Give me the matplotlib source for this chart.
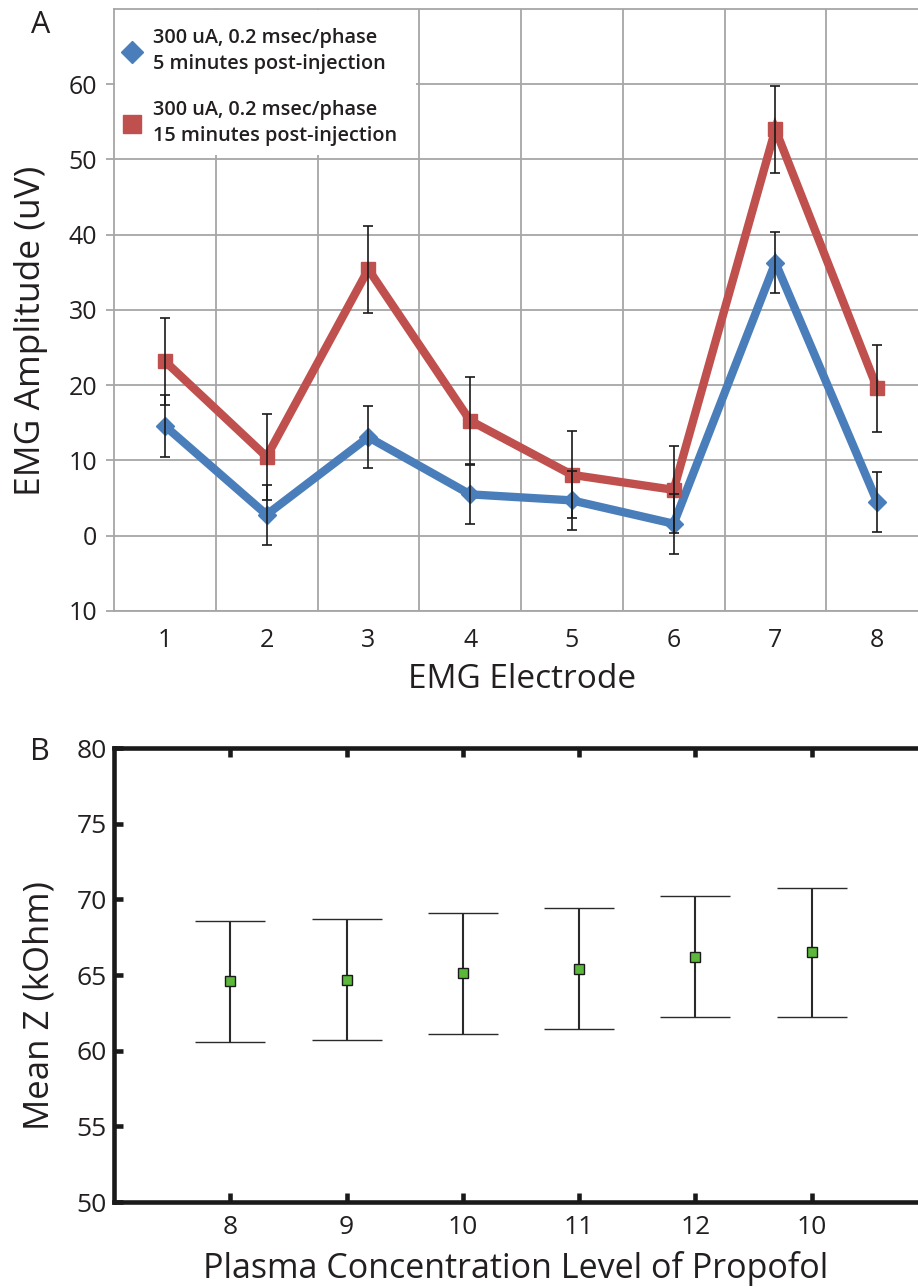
import matplotlib
matplotlib.use("Agg")
import matplotlib.pyplot as plt
from matplotlib.lines import Line2D
from matplotlib.patches import Rectangle

plt.rcParams['font.family'] = ['Open Sans', 'DejaVu Sans']
TXT = '#231f20'

# --- panel A data: EMG amplitude per electrode ---
electrodes = [1, 2, 3, 4, 5, 6, 7, 8]
amp_5min = [14.6, 2.8, 13.1, 5.5, 4.7, 1.6, 36.3, 4.5]
err_5min = [4.1, 4.0, 4.1, 3.9, 3.9, 4.0, 4.1, 4.0]
amp_15min = [23.2, 10.5, 35.4, 15.3, 8.1, 6.1, 54.0, 19.6]
err_15min = [5.8, 5.7, 5.8, 5.8, 5.8, 5.8, 5.8, 5.8]
label_5min = '300 uA, 0.2 msec/phase\n5 minutes post-injection'
label_15min = '300 uA, 0.2 msec/phase\n15 minutes post-injection'
a_yticks = [-10, 0, 10, 20, 30, 40, 50, 60]
a_yticklabels = ['10', '0', '10', '20', '30', '40', '50', '60']

# --- panel B data: mean impedance vs propofol level ---
b_pos = [1, 2, 3, 4, 5, 6]
b_levels = ['8', '9', '10', '11', '12', '10']
mean_z = [64.6, 64.7, 65.1, 65.4, 66.2, 66.5]
err_z = [4.0, 4.0, 4.0, 4.0, 4.0, 4.27]

W, H = 918, 1287
fig = plt.figure(figsize=(W / 100, H / 100), dpi=100)

def box(l, t, r, b):
    return [l / W, 1 - b / H, (r - l) / W, (b - t) / H]

# ---------------- panel A ----------------
ax = fig.add_axes(box(114, 9, 928, 611))
blue, red = '#4a7ebb', '#c0504d'
ax.plot(electrodes, amp_5min, color=blue, lw=6, marker='D', ms=9,
        mfc=blue, mec=blue, zorder=3, solid_joinstyle='miter')
ax.plot(electrodes, amp_15min, color=red, lw=6, marker='s', ms=10,
        mfc=red, mec=red, zorder=3, solid_joinstyle='miter')
ax.errorbar(electrodes, amp_5min, yerr=err_5min, fmt='none', ecolor='#1a1a1a',
            elinewidth=1.2, capsize=3.5, capthick=1.2, zorder=4)
ax.errorbar(electrodes, amp_15min, yerr=err_15min, fmt='none', ecolor='#1a1a1a',
            elinewidth=1.2, capsize=3.5, capthick=1.2, zorder=4)

ax.set_xlim(0.5, 8.5)
ax.set_ylim(-10, 70)
ax.set_yticks(a_yticks, labels=a_yticklabels)
ax.set_xticks(electrodes)
ax.set_xticks([x + 0.5 for x in electrodes[:-1]], minor=True)
ax.grid(True, axis='y', which='major', color='#a6a6a6', lw=1.3)
ax.grid(True, axis='x', which='minor', color='#a6a6a6', lw=1.3)
ax.set_axisbelow(True)
for s in ax.spines.values():
    s.set_color('#a6a6a6')
    s.set_linewidth(1.3)
ax.tick_params(axis='y', length=6, width=1.3, color='#a6a6a6', labelsize=18,
               labelcolor=TXT, pad=6)
ax.tick_params(axis='x', which='both', length=0, labelsize=18, labelcolor=TXT, pad=12)

# white panel behind the legend (hides the grid there)
ax.add_patch(Rectangle((0.0015, 0.757), 0.369, 0.241, transform=ax.transAxes,
                       facecolor='white', edgecolor='none', zorder=2.5))
handles = [Line2D([], [], ls='none', marker='D', ms=11, color=blue),
           Line2D([], [], ls='none', marker='s', ms=13, color=red)]
leg = ax.legend(handles, [label_5min, label_15min], loc='upper left',
                bbox_to_anchor=(0.011, 0.968), frameon=False, borderpad=0,
                handlelength=0.9, handletextpad=0.6, labelspacing=1.35,
                borderaxespad=0, prop={'size': 14.3, 'weight': 'semibold'})
for t in leg.get_texts():
    t.set_linespacing(1.36)
    t.set_color(TXT)
leg.set_zorder(5)

fig.text(31 / W, 1 - 331 / H, 'EMG Amplitude (uV)', rotation=90, ha='center',
         va='center', fontsize=25.5, color=TXT)
fig.text(522 / W, 1 - 680 / H, 'EMG Electrode', ha='center', va='center',
         fontsize=24, color=TXT)
fig.text(41 / W, 1 - 25 / H, 'A', ha='center', va='center', fontsize=22, color=TXT)

# ---------------- panel B ----------------
bx = fig.add_axes(box(114, 748, 928, 1202))
bx.errorbar(b_pos, mean_z, yerr=err_z, fmt='s', ms=7, mfc='#5cb83a', mec='#1a1a1a',
            mew=1.0, ecolor='#2a2a2a', elinewidth=1.5, capsize=25.5, capthick=1.5)
bx.set_xlim(0, 7)
bx.set_ylim(50, 80)
bx.set_xticks(b_pos, labels=b_levels)
bx.set_yticks([50, 55, 60, 65, 70, 75, 80])
for s in bx.spines.values():
    s.set_color('#1a1a1a')
    s.set_linewidth(3.3)
bx.tick_params(direction='in', length=6.8, width=3.3, color='#1a1a1a', top=True,
               right=True, labelsize=19, labelcolor=TXT)
bx.tick_params(axis='y', pad=5)
bx.tick_params(axis='x', pad=9)

fig.text(40 / W, 1 - 1006 / H, 'Mean Z (kOhm)', rotation=90, ha='center',
         va='center', fontsize=25, color=TXT)
fig.text(516 / W, 1 - 1268 / H, 'Plasma Concentration Level of Propofol',
         ha='center', va='center', fontsize=24.5, color=TXT)
fig.text(40 / W, 1 - 752 / H, 'B', ha='center', va='center', fontsize=22, color=TXT)

fig.savefig('out.png', dpi=100)
